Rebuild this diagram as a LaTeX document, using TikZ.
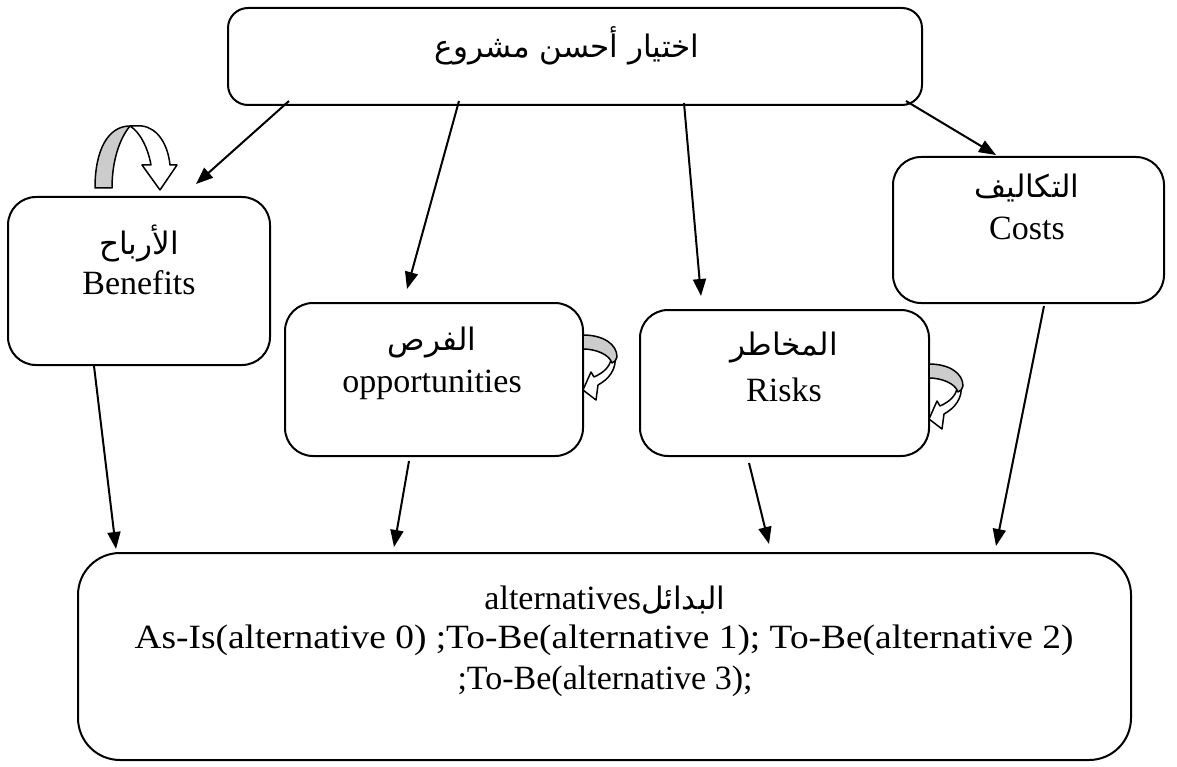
\documentclass[tikz,border=0pt]{standalone}
\usepackage{fontspec}
\setmainfont{Liberation Serif}
\newfontfamily\arabicfont[Script=Arabic]{DejaVu Sans}
\TeXXeTstate=1
\usetikzlibrary{calc,arrows.meta}
\definecolor{curlgray}{RGB}{204,204,204}
\newcommand\artxt[1]{{\arabicfont\fontsize{31}{36}\selectfont\beginR #1\endR}}
\tikzset{
  box/.style={draw,line width=2pt,rounded corners=#1,inner sep=0pt},
  box/.default=25pt,
  arr/.style={line width=2pt,-{Triangle[length=17pt,width=13pt]}},
  lat/.style={font=\fontsize{34}{40}\selectfont,inner sep=0pt},
  curl/.style={line width=1.5pt,line join=round},
  sidecurl/.pic={
    % front (white) part with the head
    \draw[curl,fill=white] (32,20) .. controls (34,34) and (26,44) .. (15,50)
      -- (13,65) -- (0,55) -- (8,37) -- (11,42)
      .. controls (20,38) and (27,32) .. (28,24) -- cycle;
    % back (grey) band
    \draw[curl,fill=curlgray] (0,0) .. controls (20,0) and (34,9) .. (34,22)
      .. controls (34,25) and (31,27) .. (29,28)
      .. controls (26,19) and (12,14) .. (0,14) -- cycle;
  }
}
\begin{document}
\begin{tikzpicture}[x=1pt,y=-1pt]
\useasboundingbox (0,0) rectangle (1177,767);

% boxes
\node[box=20pt, minimum width=694pt, minimum height=97pt] (top) at (575,56.5) {};
\node[box=28pt, minimum width=262pt, minimum height=168pt] (ben) at (139,281) {};
\node[box=28pt, minimum width=298pt, minimum height=153pt] (opp) at (434,379.5) {};
\node[box=28pt, minimum width=289pt, minimum height=146pt] (risk) at (784.5,383) {};
\node[box=28pt, minimum width=271pt, minimum height=146pt] (cost) at (1028.5,230) {};
\node[box=42pt, minimum width=1053pt, minimum height=207pt] (alt) at (604.5,656.5) {};

% labels
\node[inner sep=0pt] (ttop) at (567,46) {\artxt{اختيار أحسن مشروع}};
\node[inner sep=0pt] (tbenA) at (139,243) {\artxt{الأرباح}};
\node[lat] (tbenB) at (139,283) {Benefits};
\node[inner sep=0pt] (toppA) at (432,343) {\artxt{الفرص}};
\node[lat] (toppB) at (432,385) {opportunities};
\node[inner sep=0pt] (triskA) at (784,348) {\artxt{المخاطر}};
\node[lat] (triskB) at (784,390) {Risks};
\node[inner sep=0pt] (tcostA) at (1027,188) {\artxt{التكاليف}};
\node[lat] (tcostB) at (1027,228) {Costs};
\node[lat] (talt1) at (605,600) {alternatives\artxt{البدائل}};
\node[lat] (talt2) at (604,640) {\scalebox{1.1}[1]{As-Is(alternative 0) ;To-Be(alternative 1); To-Be(alternative 2)}};
\node[lat] (talt3) at (605,681) {;To-Be(alternative 3);};

% connectors
\draw[arr] ($(top.south west)+(62,-5)$) -- ($(ben.north west)+(189,-12)$);
\draw[arr] ($(top.south west)+(232,-5)$) -- ($(opp.north west)+(123,-13)$);
\draw[arr] ($(top.south west)+(457,-3)$) -- ($(risk.north west)+(62,-13)$);
\draw[arr] ($(top.south east)+(-17,-5)$) -- ($(cost.north west)+(104,-1)$);
\draw[arr] ($(ben.south west)+(87,0)$) -- ($(alt.north west)+(39,-3)$);
\draw[arr] ($(opp.south west)+(125,4)$) -- ($(alt.north west)+(317,-5)$);
\draw[arr] ($(risk.south west)+(110,6)$) -- ($(alt.north west)+(692,-8)$);
\draw[arr] ($(cost.south west)+(152,2)$) -- ($(alt.north west)+(919,-6)$);

% u-turn arrow above the benefits box
\draw[curl,fill=white] (130,126) -- (142,126)
  .. controls (158,128) and (168,145) .. (170,165) -- (177,165) -- (160,190)
  -- (142,165) -- (151,165) .. controls (148,148) and (140,132) .. (130,126) -- cycle;
\draw[curl,fill=curlgray] (95,188) .. controls (95,150) and (108,126) .. (130,126)
  .. controls (120,138) and (112,160) .. (112,188) -- cycle;

% side curls
\pic at (583,335) {sidecurl};
\pic at (929,364) {sidecurl};
\end{tikzpicture}
\end{document}
